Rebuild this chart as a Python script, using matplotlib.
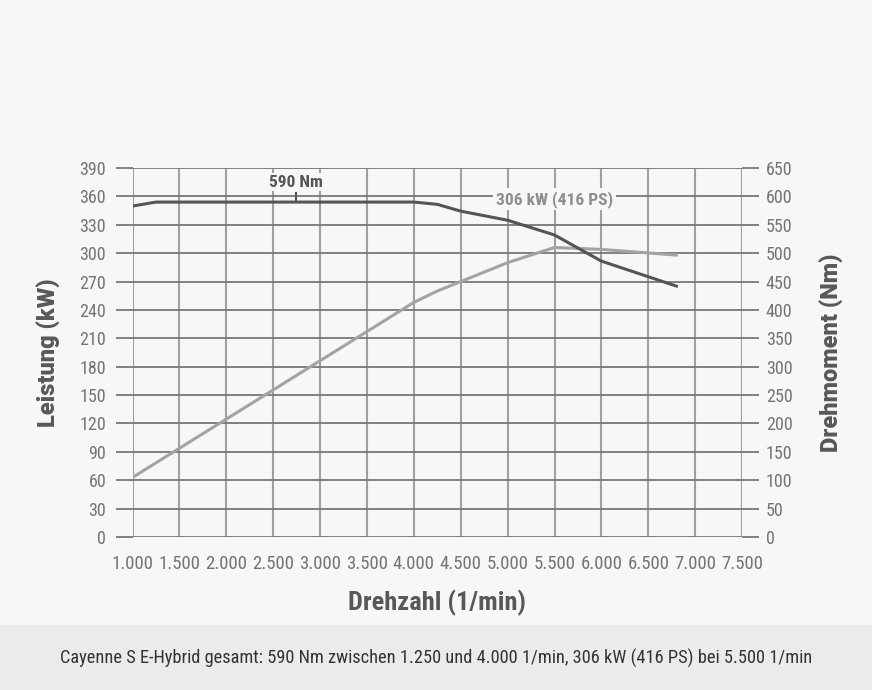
import matplotlib
matplotlib.use("Agg")
import matplotlib.pyplot as plt
from matplotlib.patches import Rectangle

plt.rcParams['font.family'] = ['Roboto Condensed', 'Barlow Condensed', 'DejaVu Sans']

# data
rpm_torque = [1000, 1250, 4000, 4250, 4500, 5000, 5500, 6000, 6800]
torque = [583, 590, 590, 586, 574, 558, 532, 486, 442]
rpm_power = [1000, 4000, 4250, 5000, 5500, 6000, 6800]
power = [63, 248, 260, 290, 306, 304, 298]
x_ticks = list(range(1000, 7501, 500))
x_labels = ['{:,}'.format(v).replace(',', '.') for v in x_ticks]
kw_ticks = list(range(0, 391, 30))
nm_ticks = list(range(0, 651, 50))

bg = '#f7f7f7'
grid_h = '#777777'
grid_v = '#a0a0a0'
label_c = '#747474'
title_c = '#585858'

fig = plt.figure(figsize=(8.72, 6.9), dpi=100, facecolor=bg)
fig.patches.append(Rectangle((0, 0), 1, 65 / 690, transform=fig.transFigure,
                             facecolor='#ebebec', edgecolor='none', zorder=0))

ax = fig.add_axes([0.152, 0.2217, 0.699, 0.5348])
ax.set_facecolor(bg)
ax.set_xlim(1000, 7500)
ax.set_ylim(0, 390)
ax.set_xticks(x_ticks, x_labels)
ax.set_yticks(kw_ticks)
for s in ax.spines.values():
    s.set_visible(False)
ax.grid(axis='x', color=grid_v, lw=1.5)
ax.grid(axis='y', color=grid_h, lw=1.3)
ax.tick_params(axis='x', length=0, pad=13, labelsize=13.5, labelcolor=label_c)
ax.tick_params(axis='y', length=12, width=1.3, color=grid_h, pad=7,
               labelsize=13, labelcolor=label_c)
ax.set_axisbelow(True)

ax.plot(rpm_power, power, color='#a3a3a3', lw=2.2, zorder=3)

ax2 = ax.twinx()
ax2.set_ylim(0, 650)
ax2.set_yticks(nm_ticks)
for s in ax2.spines.values():
    s.set_visible(False)
ax2.tick_params(axis='y', length=12, width=1.3, color=grid_h, pad=5,
                labelsize=13, labelcolor=label_c)
ax2.plot(rpm_torque, torque, color='#555555', lw=2.2, zorder=4)

# annotations
ax2.plot([2740, 2740], [592, 606], color='#555555', lw=1.5)
ax2.text(2740, 625, '590 Nm', ha='center', va='center', fontsize=12.5,
         fontweight='bold', color='#555555',
         bbox=dict(facecolor=bg, edgecolor='none', pad=1))
ax.text(5500, 357, '306 kW (416 PS)', ha='center', va='center', fontsize=12.5,
        fontweight='bold', color='#8e8e8e', zorder=5,
        bbox=dict(facecolor=bg, edgecolor='none', pad=2))

title_font = dict(family=['Roboto', 'DejaVu Sans'], fontsize=17, fontweight='black',
                  color=title_c)
ax.set_ylabel('Leistung (kW)', labelpad=13.5, **title_font)
ax2.set_ylabel('Drehmoment (Nm)', labelpad=20, **title_font)
ax.set_xlabel('Drehzahl (1/min)', fontsize=19, fontweight='bold', color=title_c, labelpad=12)

fig.text(0.5, 32 / 690, 'Cayenne S E-Hybrid gesamt: 590 Nm zwischen 1.250 und 4.000 1/min, '
         '306 kW (416 PS) bei 5.500 1/min', ha='center', va='center', fontsize=13.2,
         color='#333333')

fig.savefig('out.png', dpi=100, facecolor=bg)
